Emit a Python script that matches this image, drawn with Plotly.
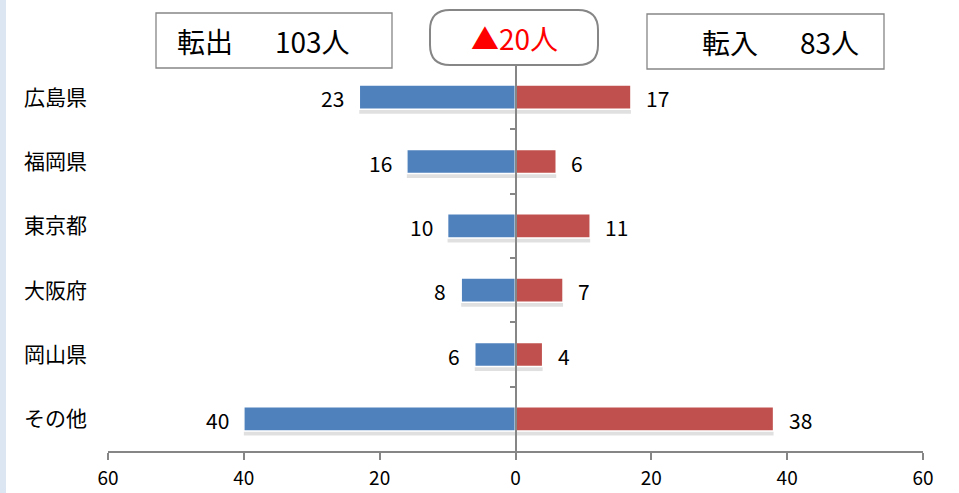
import plotly.graph_objects as go

categories = ["広島県", "福岡県", "東京都", "大阪府", "岡山県", "その他"]
out_values = [23, 16, 10, 8, 6, 40]   # 転出
in_values = [17, 6, 11, 7, 4, 38]     # 転入
tick_vals = [-60, -40, -20, 0, 20, 40, 60]
tick_text = ["60", "40", "20", "0", "20", "40", "60"]
out_title = "転出\u3000\u2002103人"
in_title = "転入\u3000\u200283人"
net_title = "▲20人"

BLUE = "#4f81bd"
RED = "#c0504d"
GRAY = "#868686"
SHADOW = "rgba(0,0,0,0.12)"
FONT = "Noto Sans CJK JP"

W, H = 959, 493
L, R, T, B = 108, 36, 65, 42
PW, PH = W - L - R, H - T - B
BAR_W = 0.375


def px(x):
    return (x - L) / PW


def py(y):
    return (H - B - y) / PH


fig = go.Figure()
n = len(categories)
# soft shadows under the bars
fig.add_trace(go.Bar(
    y=categories, x=[-v for v in out_values], orientation="h",
    width=[BAR_W + 0.05] * n, offset=[-BAR_W / 2 + 0.02] * n,
    marker=dict(color=SHADOW, line=dict(width=0)),
    yaxis="y", hoverinfo="skip", showlegend=False,
))
fig.add_trace(go.Bar(
    y=categories, x=in_values, orientation="h",
    width=[BAR_W + 0.05] * n, offset=[-BAR_W / 2 + 0.02] * n,
    marker=dict(color=SHADOW, line=dict(width=0)),
    yaxis="y2", hoverinfo="skip", showlegend=False,
))
fig.add_trace(go.Bar(
    y=categories, x=[-v for v in out_values], orientation="h",
    width=[BAR_W] * n, offset=[-BAR_W / 2] * n,
    marker=dict(color=BLUE, line=dict(color="white", width=1.5)),
    yaxis="y", hoverinfo="skip", showlegend=False,
))
fig.add_trace(go.Bar(
    y=categories, x=in_values, orientation="h",
    width=[BAR_W] * n, offset=[-BAR_W / 2] * n,
    marker=dict(color=RED, line=dict(color="white", width=1.5)),
    yaxis="y2", hoverinfo="skip", showlegend=False,
))

annotations = []
for c, v in zip(categories, out_values):
    annotations.append(dict(x=-v, y=c, xref="x", yref="y", text=str(v),
                            showarrow=False, xanchor="right", xshift=-13, yshift=-1,
                            font=dict(size=21, color="#000", family=FONT)))
for c, v in zip(categories, in_values):
    annotations.append(dict(x=v, y=c, xref="x", yref="y", text=str(v),
                            showarrow=False, xanchor="left", xshift=13, yshift=-1,
                            font=dict(size=21, color="#000", family=FONT)))

# header texts
annotations.append(dict(x=px(175), y=py(41), xref="paper", yref="paper", text=out_title,
                        showarrow=False, xanchor="left", yanchor="middle",
                        font=dict(size=28, color="#000", family=FONT)))
annotations.append(dict(x=px(514), y=py(38), xref="paper", yref="paper", text=net_title,
                        showarrow=False, xanchor="center", yanchor="middle",
                        font=dict(size=28, color="#ff0000", family=FONT)))
annotations.append(dict(x=px(700), y=py(42), xref="paper", yref="paper", text=in_title,
                        showarrow=False, xanchor="left", yanchor="middle",
                        font=dict(size=28, color="#000", family=FONT)))


def rounded_rect(x0, y0, x1, y1, r):
    pts = [
        f"M {px(x0 + r)},{py(y0)}",
        f"L {px(x1 - r)},{py(y0)}",
        f"Q {px(x1)},{py(y0)} {px(x1)},{py(y0 + r)}",
        f"L {px(x1)},{py(y1 - r)}",
        f"Q {px(x1)},{py(y1)} {px(x1 - r)},{py(y1)}",
        f"L {px(x0 + r)},{py(y1)}",
        f"Q {px(x0)},{py(y1)} {px(x0)},{py(y1 - r)}",
        f"L {px(x0)},{py(y0 + r)}",
        f"Q {px(x0)},{py(y0)} {px(x0 + r)},{py(y0)}",
        "Z",
    ]
    return " ".join(pts)


shapes = [
    dict(type="rect", xref="paper", yref="paper", x0=px(0), x1=px(6), y0=py(H), y1=py(0),
         fillcolor="#dce6f2", line=dict(width=0), layer="below"),
    dict(type="rect", xref="paper", yref="paper", x0=px(156), x1=px(392), y0=py(68), y1=py(13),
         fillcolor="white", line=dict(color=GRAY, width=1.3)),
    dict(type="path", xref="paper", yref="paper", path=rounded_rect(430, 10, 598, 65, 20),
         fillcolor="white", line=dict(color=GRAY, width=2)),
    dict(type="rect", xref="paper", yref="paper", x0=px(647), x1=px(884), y0=py(69), y1=py(14),
         fillcolor="white", line=dict(color=GRAY, width=1.3)),
]

fig.update_layout(
    width=W, height=H,
    margin=dict(l=L, r=R, t=T, b=B, autoexpand=False),
    paper_bgcolor="white", plot_bgcolor="white",
    barmode="overlay",
    font=dict(family=FONT, color="#000"),
    xaxis=dict(range=[-60, 60], tickvals=tick_vals, ticktext=tick_text, automargin=False,
               showgrid=False, zeroline=False, showline=True, linecolor=GRAY, linewidth=1.8,
               ticks="outside", ticklen=7, tickcolor=GRAY, tickwidth=1.5, ticklabelstandoff=2,
               tickfont=dict(size=19, color="#000", family=FONT), fixedrange=True),
    yaxis=dict(type="category", categoryarray=categories, autorange="reversed", automargin=False,
               showgrid=False, zeroline=False, showline=False, ticks="",
               tickfont=dict(size=21, color="#000", family=FONT), ticklabelstandoff=20),
    yaxis2=dict(type="category", categoryarray=categories, autorange="reversed",
                overlaying="y", anchor="free", position=0.5, side="left", automargin=False,
                showgrid=False, zeroline=False, showline=True, linecolor=GRAY, linewidth=1.5,
                ticks="outside", tickson="boundaries", ticklen=5, tickcolor=GRAY, tickwidth=1.5,
                showticklabels=False),
    annotations=annotations,
    shapes=shapes,
)

fig.write_html("out.html", config={"displayModeBar": False},
               post_script="document.body.style.margin='0';")
